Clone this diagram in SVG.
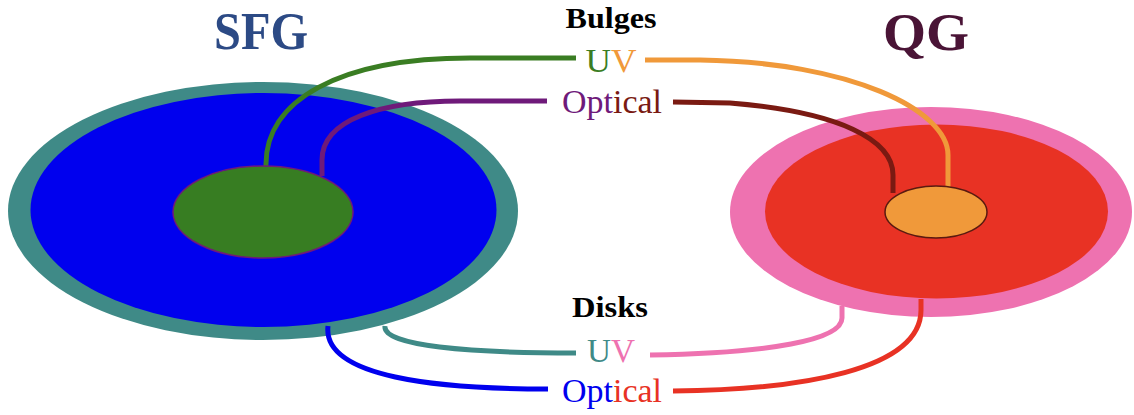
<svg xmlns="http://www.w3.org/2000/svg" width="1134" height="415" viewBox="0 0 1134 415">
<style>
.c{fill:none;stroke-width:5;stroke-linecap:butt}
.h{font-family:"Liberation Serif",serif;font-weight:bold;text-anchor:middle;fill:#000;font-size:30px}
.t{font-family:"Liberation Serif",serif;font-size:33px;text-anchor:middle}
.big{font-family:"Liberation Serif",serif;font-weight:bold;text-anchor:middle;font-size:53px}
</style>
<rect width="1134" height="415" fill="#fff"/>
<g id="sfg">
<ellipse cx="263" cy="211" rx="255" ry="129" fill="#3f8a87"/>
<ellipse cx="263.5" cy="210" rx="233" ry="117" fill="#0000ee"/>
<text class="big" x="261" y="49" fill="#2c4a85" textLength="94" lengthAdjust="spacingAndGlyphs">SFG</text>
</g>
<g id="qg">
<ellipse cx="931" cy="212" rx="201" ry="105" fill="#ee72b0"/>
<ellipse cx="936.5" cy="211.5" rx="171.5" ry="87" fill="#e83224"/>
<text class="big" x="926" y="50" fill="#4a1436" textLength="86" lengthAdjust="spacingAndGlyphs">QG</text>
</g>
<g id="connectors">
<path class="c" stroke="#3a7d23" d="M266,167 C264,100 340,58 470,58 L576,58"/>
<path class="c" stroke="#6f1a7a" d="M322,176 L322,160 C322,120 380,101 460,101 L547,101"/>
<path class="c" stroke="#f0993a" d="M645,60 L700,60 C850,62 948,110 948,155 L948,188"/>
<path class="c" stroke="#7a1a12" d="M673,102 L730,103 C840,112 893,140 893,175 L893,193"/>
<path class="c" stroke="#3f8a87" d="M385,326 C382,346 470,353 576,353"/>
<path class="c" stroke="#0000ee" d="M328,326 C322,378 440,389 548,389"/>
<path class="c" stroke="#ee72b0" d="M650,355 C770,353 842,340 842,318 L842,306"/>
<path class="c" stroke="#e83224" d="M673,391 C800,390 921,370 921,310 L921,299"/>
</g>
<g id="bulge-sfg">
<ellipse cx="263" cy="212" rx="90" ry="46" fill="#377d22" stroke="#6f1a7a" stroke-width="1.5"/>
</g>
<g id="bulge-qg">
<ellipse cx="936" cy="212" rx="51" ry="26" fill="#f0993a" stroke="#5a1a10" stroke-width="1.5"/>
</g>
<g id="labels">
<text class="h" x="611" y="28" textLength="91" lengthAdjust="spacingAndGlyphs">Bulges</text>
<text class="t" x="611" y="72" textLength="51" lengthAdjust="spacingAndGlyphs"><tspan fill="#3a7d23">U</tspan><tspan fill="#f0993a">V</tspan></text>
<text class="t" x="612" y="113" textLength="100" lengthAdjust="spacingAndGlyphs"><tspan fill="#6f1a7a">Opt</tspan><tspan fill="#7a1a12">ical</tspan></text>
<text class="h" x="610" y="317" textLength="76" lengthAdjust="spacingAndGlyphs">Disks</text>
<text class="t" x="611" y="362" textLength="48" lengthAdjust="spacingAndGlyphs"><tspan fill="#3f8a87">U</tspan><tspan fill="#ee72b0">V</tspan></text>
<text class="t" x="612" y="402" textLength="100" lengthAdjust="spacingAndGlyphs"><tspan fill="#0000ee">Opt</tspan><tspan fill="#e83224">ical</tspan></text>
</g>
</svg>
